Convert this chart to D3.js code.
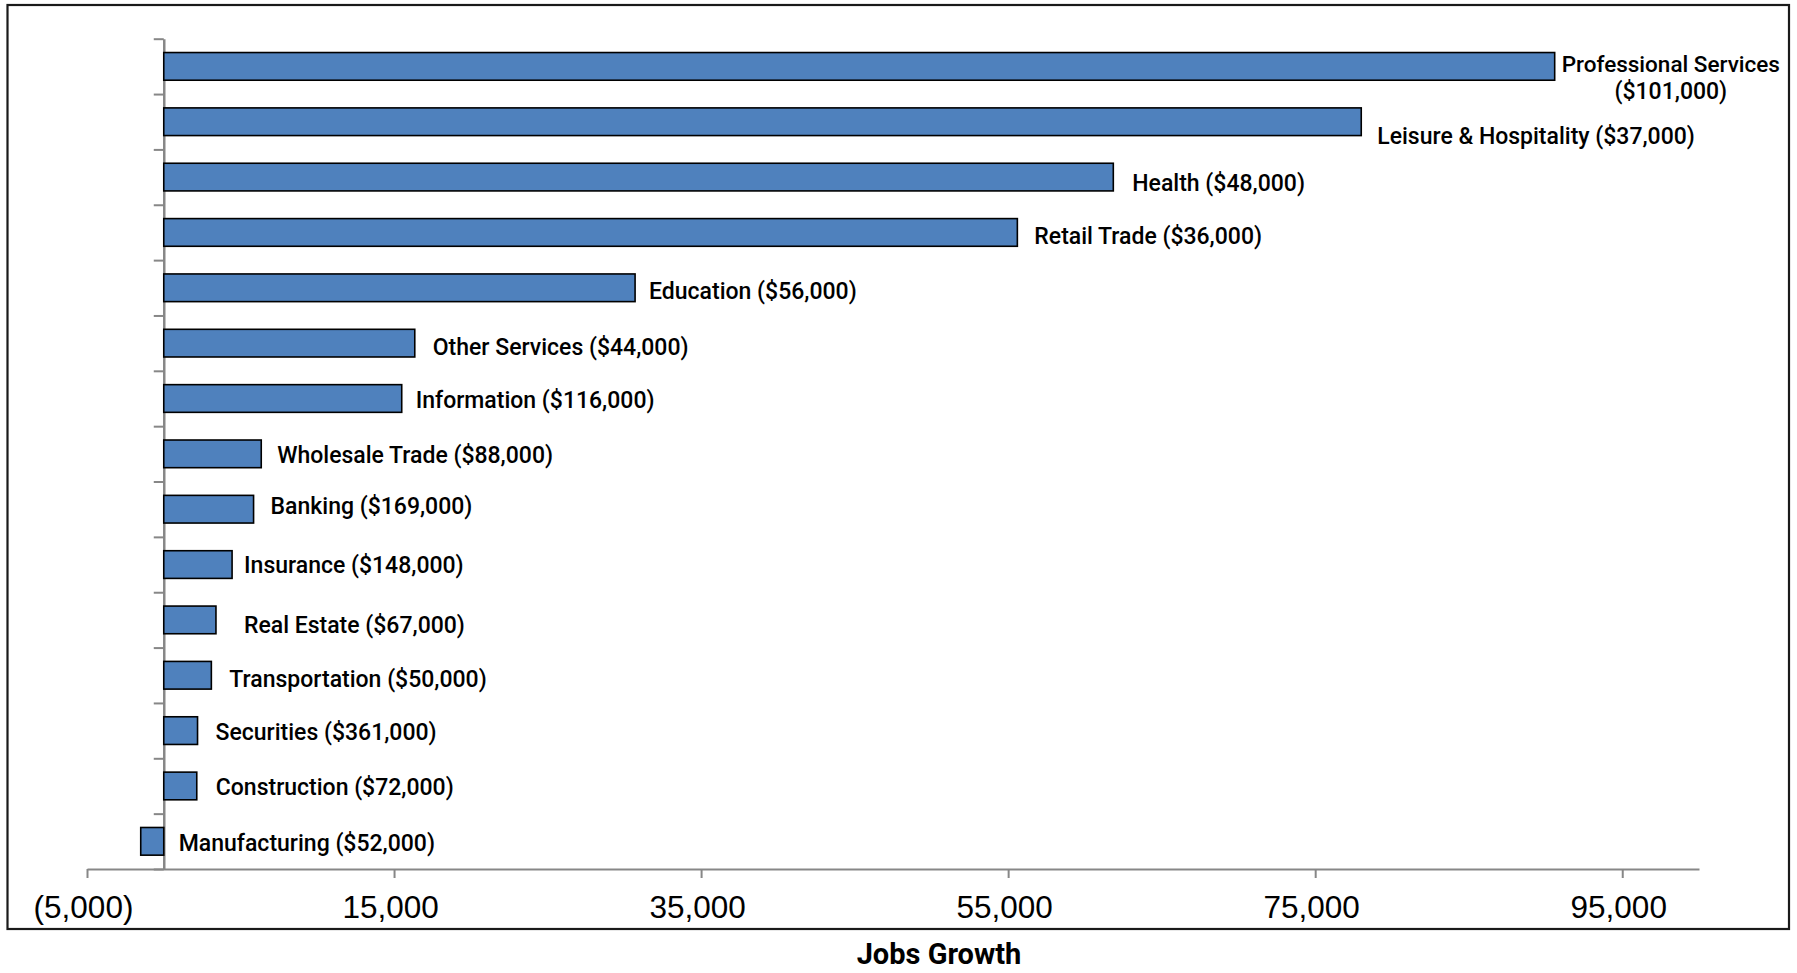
<!DOCTYPE html>
<html>
<head>
<meta charset="utf-8">
<script src="https://cdn.jsdelivr.net/npm/d3@7/dist/d3.min.js"></script>
<style>
  html, body { margin: 0; padding: 0; background: #fff; }
  svg { display: block; }
  .bar-label { font-family: Roboto, "Liberation Sans", sans-serif; font-weight: 500; font-size: 23px; fill: #000; }
  .x-axis text { font-family: "Liberation Sans", Arial, sans-serif; font-size: 31.5px; fill: #000; }
  .axis-title { font-family: Roboto, "Liberation Sans", sans-serif; font-weight: 700; font-size: 29px; fill: #000; }
</style>
</head>
<body>
<svg id="chart" width="1797" height="973"></svg>
<script>
// categories, top to bottom
var categories = ["Professional Services", "Leisure & Hospitality", "Health", "Retail Trade",
    "Education", "Other Services", "Information", "Wholesale Trade", "Banking", "Insurance",
    "Real Estate", "Transportation", "Securities", "Construction", "Manufacturing"];

// jobs growth (x value of each bar)
var jobsGrowth = [90600, 78000, 61850, 55600, 30700, 16350, 15500, 6350, 5850, 4450,
    3400, 3100, 2200, 2150, -1500];

// average wage shown in brackets after each label
var avgWages = [101000, 37000, 48000, 36000, 56000, 44000, 116000, 88000, 169000, 148000,
    67000, 50000, 361000, 72000, 52000];

var xTicks = [-5000, 15000, 35000, 55000, 75000, 95000];

// hand placed data labels: [dx from bar end, dy from bar centre]
var labelNudge = [[7, 0], [16, 13.6], [19, 6], [17, 3.6], [14, 3.5], [18, 3.2], [14, 1.4],
    [16, 1], [17, -3.8], [12, 0.6], [28, 4.5], [18, 3.5], [18, 1.5], [19, 0.6], [15, 1.6]];

var svg = d3.select("#chart");

var plot = { left: 87, right: 1699, top: 38.7, bottom: 869 };

// outer frame
svg.append("rect")
    .attr("x", 7.5).attr("y", 5)
    .attr("width", 1781.5).attr("height", 924)
    .attr("fill", "#fff")
    .attr("stroke", "#1a1a1a")
    .attr("stroke-width", 2.2);

var x = d3.scaleLinear()
    .domain([-5000, 100000])
    .range([plot.left, plot.right]);

var y = d3.scaleBand()
    .domain(categories)
    .range([plot.top, plot.bottom])
    .paddingInner(0.5)
    .paddingOuter(0.25);

var money = d3.format(",");
var tickFmt = function (d) {
    return d < 0 ? "(" + money(-d) + ")" : money(d);
};

// x axis
var xAxis = svg.append("g")
    .attr("class", "x-axis")
    .attr("transform", "translate(0," + plot.bottom + ")")
    .call(d3.axisBottom(x).tickValues(xTicks).tickFormat(tickFmt).tickSize(9).tickSizeOuter(0).tickPadding(18));
xAxis.select(".domain").attr("stroke", "#878787").attr("stroke-width", 2);
xAxis.selectAll(".tick line").attr("stroke", "#878787").attr("stroke-width", 2);
xAxis.selectAll(".tick text").attr("dy", "0.71em").attr("dx", -4);

// y axis: line at zero with ticks between categories
var yTickScale = d3.scaleLinear()
    .domain([0, categories.length])
    .range([plot.top, plot.bottom]);

var yAxis = svg.append("g")
    .attr("transform", "translate(" + x(0) + ",0)")
    .call(d3.axisLeft(yTickScale).ticks(categories.length).tickFormat("").tickSize(10).tickSizeOuter(0));
yAxis.select(".domain").attr("stroke", "#878787").attr("stroke-width", 2.5);
yAxis.selectAll(".tick line").attr("stroke", "#878787").attr("stroke-width", 2);

// bars
svg.append("g")
    .selectAll("rect")
    .data(categories)
    .enter().append("rect")
    .attr("x", function (d, i) { return x(Math.min(0, jobsGrowth[i])); })
    .attr("y", function (d) { return y(d); })
    .attr("width", function (d, i) { return Math.abs(x(jobsGrowth[i]) - x(0)); })
    .attr("height", y.bandwidth())
    .attr("fill", "#4f81bd")
    .attr("stroke", "#000")
    .attr("stroke-width", 1.6);

// data labels
var labels = svg.append("g");
categories.forEach(function (c, i) {
    var x0 = Math.max(x(0), x(jobsGrowth[i])) + labelNudge[i][0];
    var cy = y(c) + y.bandwidth() / 2 + labelNudge[i][1];
    var wage = "($" + money(avgWages[i]) + ")";
    if (i === 0) {
        // long label wraps onto two lines
        var t = labels.append("text").attr("class", "bar-label").attr("x", x0).attr("y", cy + 5.3)
            .style("font-size", "22.5px").text(c);
        var w = t.node().getComputedTextLength();
        labels.append("text").attr("class", "bar-label")
            .attr("x", x0 + w / 2).attr("y", cy + 33)
            .attr("text-anchor", "middle")
            .text(wage);
    } else {
        labels.append("text").attr("class", "bar-label")
            .attr("x", x0).attr("y", cy + 8.2)
            .text(c + " " + wage);
    }
});

// axis title
svg.append("text")
    .attr("class", "axis-title")
    .attr("x", 939).attr("y", 964)
    .attr("text-anchor", "middle")
    .text("Jobs Growth");
</script>
</body>
</html>
